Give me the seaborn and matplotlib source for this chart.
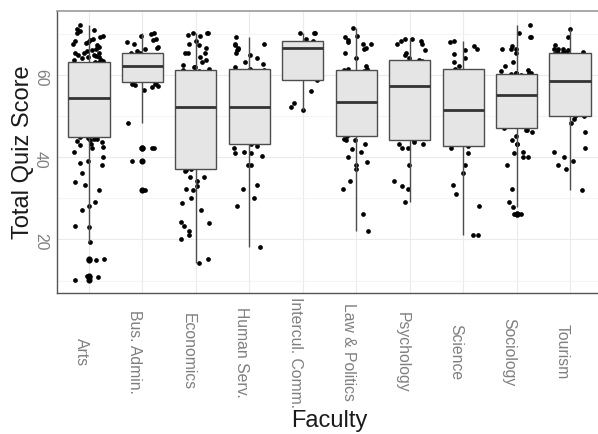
import numpy as np
import pandas as pd
import matplotlib
matplotlib.use('Agg')
import matplotlib.pyplot as plt
from matplotlib.ticker import MultipleLocator
import seaborn as sns

# Faculties (x axis order)
faculties = ['Arts', 'Bus. Admin.', 'Economics', 'Human Serv.', 'Intercul. Comm.',
             'Law & Politics', 'Psychology', 'Science', 'Sociology', 'Tourism']

# Quiz scores (points inside the boxes are estimates)
arts = [10.2, 11.0, 11.1, 15.0, 15.2, 19.5, 23.0, 23.3, 27.2, 28.1,
        29.2, 32.0, 33.2, 34.0, 36.1, 38.1, 38.6, 39.1, 40.1, 41.3,
        42.1, 42.5, 42.9, 43.3, 43.7, 44.0, 44.1, 44.3, 44.5, 44.7,
        45.0,
        45.4, 45.8, 46.0, 46.3, 46.7, 47.0, 47.4, 47.6, 48.0, 48.3,
        48.5, 48.9, 49.2, 49.6, 49.8, 50.1, 50.5, 50.8, 51.1, 51.3,
        51.7, 52.0, 52.4, 52.6, 52.9, 53.1, 53.5, 53.8, 54.1,
        54.3,
        54.6, 54.9, 55.3, 55.5, 55.8, 56.1, 56.5, 56.7, 57.0, 57.2,
        57.6, 57.9, 58.3, 58.5, 58.8, 59.1, 59.4, 59.8, 60.0, 60.3,
        60.6, 60.9, 61.2, 61.4, 61.8, 62.1, 62.4, 62.7, 63.0,
        63.2,
        63.4, 63.6, 63.7, 64.0, 64.4, 64.4, 64.5, 64.8, 64.8, 65.2,
        65.2, 65.3, 65.8, 66.0, 66.2, 66.8, 67.2, 67.6, 67.8, 68.0,
        68.3, 68.4, 68.8, 69.2, 69.4, 70.2, 70.7, 71.0, 71.2, 72.1]
bus_admin = [31.9, 39.0, 42.3, 42.3, 48.2, 56.3, 57.0, 57.2, 57.5, 57.7, 57.8,
             58.3,
             58.6, 58.9, 59.3, 59.6, 60.0, 60.4, 60.8, 61.2, 61.6, 61.9,
             62.2,
             62.5, 62.8, 63.1, 63.4, 63.7, 64.0, 64.3, 64.6, 64.9, 65.2,
             65.4,
             65.8, 66.2, 66.4, 66.8, 67.6, 68.0, 68.4, 68.8, 69.4, 70.0, 70.2]
economics = [14.2, 15.2, 20.0, 21.1, 22.1, 23.3, 24.1, 24.3, 27.2, 28.9,
             30.0, 32.0, 32.2, 33.0, 34.2, 35.2, 35.2, 36.7, 36.9,
             37.0,
             37.8, 38.6, 39.5, 40.3, 41.2, 42.0, 42.9, 43.7, 44.6, 45.4,
             46.3, 47.1, 48.0, 48.8, 49.7, 50.5, 51.2, 51.8,
             52.2,
             52.7, 53.2, 53.7, 54.2, 54.7, 55.2, 55.7, 56.2, 56.7, 57.2,
             57.7, 58.2, 58.7, 59.2, 59.7, 60.2, 60.6, 60.9,
             61.1,
             61.5, 61.9, 62.0, 62.3, 63.2, 63.6, 64.4, 65.2, 65.2, 65.3,
             66.4, 67.2, 67.6, 68.3, 69.4, 69.6, 70.2, 70.2, 70.2]
human_serv = [18.2, 28.1, 30.0, 32.2, 33.2, 38.1, 38.1, 40.3, 40.9, 41.1, 41.3, 42.3, 42.7,
              43.1,
              43.8, 44.5, 45.3, 46.0, 46.8, 47.5, 48.3, 49.0, 49.8, 50.5, 51.2, 51.8,
              52.2,
              52.9, 53.7, 54.5, 55.3, 56.1, 56.9, 57.7, 58.5, 59.3, 60.1, 60.7, 61.2,
              61.5,
              62.0, 62.6, 63.2, 64.1, 64.8, 65.3, 66.0, 66.2, 66.4, 67.2, 67.4, 67.6, 69.2]
intercul = [51.4, 52.2, 53.2, 56.1,
            58.7,
            60.5, 63.0, 65.2,
            66.4,
            66.9, 67.4, 67.8,
            68.2,
            68.6, 70.2, 70.2, 70.2]
law_politics = [22.0, 26.1, 32.2, 34.2, 37.0, 38.1, 38.9, 40.1, 41.3, 42.0, 43.2, 44.1, 44.1, 44.5,
                45.1,
                45.7, 46.3, 46.9, 47.5, 48.1, 48.7, 49.3, 49.9, 50.5, 51.1, 51.7, 52.3, 52.9,
                53.3,
                53.9, 54.5, 55.1, 55.7, 56.3, 56.9, 57.5, 58.1, 58.7, 59.3, 59.9, 60.4, 60.8,
                61.1,
                61.3, 61.5, 62.1, 64.1, 65.2, 66.2, 66.4, 67.4, 67.4, 68.0, 68.4, 69.2, 69.4, 71.3]
psychology = [29.0, 32.3, 33.0, 34.2, 38.1, 42.3, 42.3, 43.2, 43.2, 43.7,
              44.1,
              45.5, 47.0, 48.5, 50.0, 51.5, 53.0, 54.5, 55.8, 56.8,
              57.3,
              58.0, 58.7, 59.4, 60.1, 60.8, 61.5, 62.2, 62.8, 63.3,
              63.6,
              64.2, 64.8, 65.3, 66.0, 67.4, 67.4, 68.3, 68.3, 68.6, 68.8]
science = [21.0, 21.0, 28.1, 31.0, 33.2, 36.1, 38.1, 41.1, 42.1,
           42.7,
           43.8, 44.9, 46.0, 47.1, 48.2, 49.3, 50.3, 51.0,
           51.4,
           52.6, 53.9, 55.2, 56.5, 57.8, 59.1, 60.3, 61.0,
           61.5,
           62.1, 63.2, 64.0, 65.0, 66.0, 66.2, 67.0, 68.0, 68.2]
sociology = [26.2, 26.2, 28.0, 29.2, 32.2, 38.1, 40.1, 40.1, 40.9, 41.3,
             43.2, 43.2, 44.1, 45.1, 46.2, 46.7, 46.7,
             47.0,
             47.5, 48.0, 48.5, 49.0, 49.5, 50.0, 50.5, 51.0, 51.5, 52.0,
             52.5, 53.0, 53.5, 54.0, 54.5, 54.9,
             55.2,
             55.5, 55.8, 56.1, 56.4, 56.7, 57.0, 57.3, 57.6, 57.9, 58.2,
             58.5, 58.8, 59.1, 59.4, 59.7, 60.0,
             60.2,
             60.5, 60.5, 60.5, 60.5, 61.0, 61.1, 62.1, 63.2, 65.3, 66.2,
             66.2, 66.2, 67.0, 69.2, 69.2, 70.2, 72.1]
tourism = [32.0, 37.0, 38.1, 39.1, 40.1, 41.3, 42.3, 46.0, 48.2, 49.2, 50.0,
           50.1,
           50.9, 51.7, 52.5, 53.3, 54.1, 54.9, 55.7, 56.5, 57.3, 58.0,
           58.4,
           59.1, 59.8, 60.5, 61.2, 61.9, 62.6, 63.3, 64.0, 64.6, 65.0,
           65.3,
           65.5, 65.6, 65.6, 65.6, 66.0, 66.2, 66.2, 66.2, 67.2, 69.2, 71.1]

scores = [arts, bus_admin, economics, human_serv, intercul,
          law_politics, psychology, science, sociology, tourism]

df = pd.DataFrame({
    'Faculty': np.repeat(faculties, [len(s) for s in scores]),
    'Score': np.concatenate(scores),
})

# Estilo tipo ggplot theme_light
sns.set_theme(style='white')
plt.rcParams['font.family'] = ['Liberation Sans', 'DejaVu Sans']

fig = plt.figure(figsize=(5.98, 4.34), dpi=100)
ax = fig.add_axes([0.0953, 0.3249, 0.9114, 0.6498])

np.random.seed(7)
sns.stripplot(data=df, x='Faculty', y='Score', order=faculties, ax=ax,
              color='black', size=3.4, jitter=0.3, linewidth=0, zorder=1)
sns.boxplot(data=df, x='Faculty', y='Score', order=faculties, ax=ax,
            color='#E5E5E5', saturation=1, width=0.77, linecolor='#4d4d4d',
            linewidth=1.0, showcaps=False, whis=1.5,
            medianprops=dict(color='#333333', linewidth=2.0),
            flierprops=dict(marker='o', markerfacecolor='black',
                            markeredgecolor='black', markersize=3.4),
            zorder=3)

ax.set_xlim(-0.6, 9.6)
ax.set_ylim(7.0, 75.5)
ax.set_yticks([20, 40, 60])
ax.yaxis.set_minor_locator(MultipleLocator(10))
ax.set_axisbelow(True)
ax.grid(which='major', color='#EBEBEB', linewidth=0.8)
ax.grid(which='minor', axis='y', color='#F2F2F2', linewidth=0.6)

ax.set_xticks(range(len(faculties)))
ax.set_xticklabels(faculties, rotation=-90, ha='right', va='center')
for lab in ax.get_yticklabels():
    lab.set_rotation(-90)
ax.tick_params(axis='both', which='major', length=3, width=0.8,
               color='#555555', labelcolor='#7f7f7f', labelsize=11.3)
ax.tick_params(axis='x', pad=39.5)
ax.tick_params(which='minor', length=0)

for side in ['left', 'bottom']:
    ax.spines[side].set_color('#555555')
    ax.spines[side].set_linewidth(1.0)
for side in ['top', 'right']:
    ax.spines[side].set_color('#9a9a9a')
    ax.spines[side].set_linewidth(1.2)

ax.set_xlabel('Faculty', fontsize=17, color='#1a1a1a', labelpad=2)
ax.set_ylabel('Total Quiz Score', fontsize=17, color='#1a1a1a')
ax.yaxis.set_label_coords(-0.043, 0.5)

fig.savefig('out.png', dpi=100)
